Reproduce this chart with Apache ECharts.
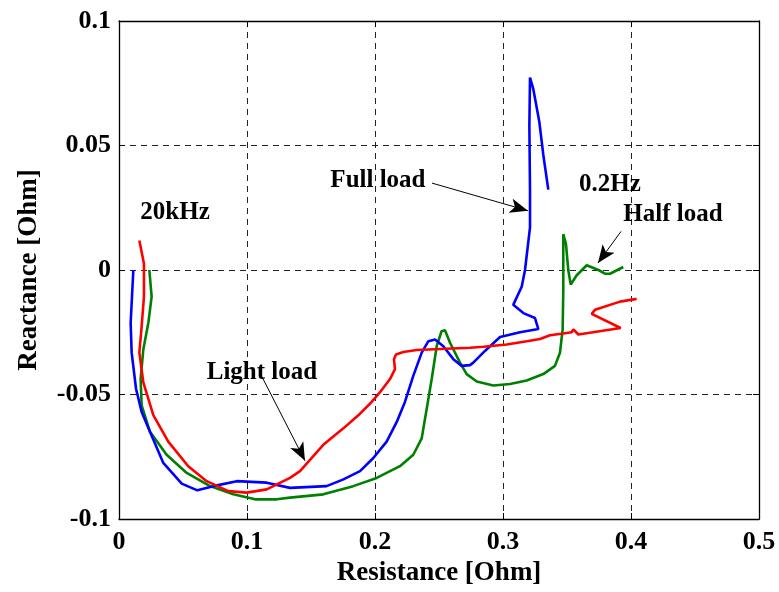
<!DOCTYPE html>
<html>
<head>
<meta charset="utf-8">
<script src="https://cdn.jsdelivr.net/npm/echarts@6/dist/echarts.min.js"></script>
<style>
    html, body { margin: 0; padding: 0; background: #fff; }
    #chart { width: 779px; height: 592px; }
</style>
</head>
<body>
<div id="chart"></div>
<script>
// 阻抗曲线数据 (电阻 / 电抗)
const fullLoadR = [0.0112, 0.0091, 0.0099, 0.0133, 0.0177, 0.0242, 0.0346, 0.049, 0.0612, 0.0737, 0.092, 0.1154, 0.1336,
    0.1622, 0.1753, 0.1883, 0.1987, 0.2091, 0.217, 0.2234, 0.2299, 0.2365, 0.2417, 0.2469, 0.2534, 0.2612, 0.2677, 0.2742,
    0.2768, 0.2859, 0.2977, 0.3133, 0.3276, 0.325, 0.3159, 0.308, 0.3146, 0.3172, 0.3211, 0.3211, 0.3206, 0.3211, 0.3237,
    0.3284, 0.3315, 0.3354];
const fullLoadX = [0, -0.0213, -0.0332, -0.0477, -0.057, -0.065, -0.0775, -0.0858, -0.0885, -0.0868, -0.0848, -0.0854, -0.0875,
    -0.0868, -0.0841, -0.0808, -0.0755, -0.0689, -0.061, -0.053, -0.0425, -0.0332, -0.0286, -0.0279, -0.0306, -0.0358, -0.0385, -0.0382,
    -0.0372, -0.0325, -0.0269, -0.025, -0.0237, -0.0193, -0.0173, -0.014, -0.0067, 0, 0.0171, 0.0316, 0.058, 0.0773, 0.0726,
    0.0594, 0.0462, 0.0323];

const halfLoadR = [0.0237, 0.0255, 0.0229, 0.019, 0.0169, 0.0177, 0.0242, 0.0372, 0.0529, 0.0711, 0.0893, 0.1063, 0.1232, 0.1336,
    0.1596, 0.183, 0.2013, 0.2195, 0.2299, 0.2365, 0.2404, 0.2443, 0.2482, 0.252, 0.2547, 0.2586, 0.2664, 0.2716, 0.2795,
    0.2924, 0.3055, 0.3185, 0.3315, 0.3406, 0.3445, 0.3466, 0.3471, 0.3471, 0.3492, 0.351, 0.3529, 0.3576, 0.3654, 0.3745,
    0.3797, 0.3836, 0.394];
const halfLoadX = [0, -0.0107, -0.0213, -0.0319, -0.0438, -0.0544, -0.065, -0.0742, -0.0815, -0.0868, -0.0901, -0.0921, -0.0921, -0.0914,
    -0.0901, -0.0868, -0.0835, -0.0788, -0.0742, -0.0676, -0.0557, -0.0438, -0.0306, -0.0246, -0.0242, -0.0292, -0.0372, -0.0418, -0.0448,
    -0.0464, -0.0458, -0.0444, -0.0418, -0.0385, -0.0332, -0.0239, -0.0081, 0.0144, 0.0104, 0, -0.0058, -0.0021, 0.0019, 0,
    -0.0015, -0.0015, 0.0012];

const lightLoadR = [0.0159, 0.0195, 0.0195, 0.0177, 0.0159, 0.019, 0.0268, 0.0385, 0.0541, 0.0685, 0.0854, 0.0998, 0.1154, 0.1336,
    0.1414, 0.1596, 0.1753, 0.1883, 0.1974, 0.2039, 0.2117, 0.2156, 0.2148, 0.2164, 0.2221, 0.2326, 0.2742, 0.2846, 0.3029,
    0.3185, 0.3289, 0.3367, 0.3471, 0.3536, 0.355, 0.3589, 0.3919, 0.3693, 0.3719, 0.3914, 0.4044];
const lightLoadX = [0.0118, 0.0025, -0.0107, -0.0226, -0.0332, -0.0451, -0.0583, -0.0689, -0.0788, -0.0848, -0.0888, -0.0894, -0.0881, -0.0835,
    -0.0808, -0.0702, -0.0636, -0.0577, -0.053, -0.0491, -0.0438, -0.0398, -0.0358, -0.0339, -0.0329, -0.0321, -0.0312, -0.0308, -0.0299,
    -0.0286, -0.0277, -0.0262, -0.0255, -0.025, -0.0239, -0.0259, -0.0233, -0.0176, -0.016, -0.0127, -0.0116];

// 坐标轴刻度
const xTicks = [0, 0.1, 0.2, 0.3, 0.4, 0.5];
const yTicks = [-0.1, -0.05, 0, 0.05, 0.1];

// 标注文字
const noteTexts = ['20kHz', 'Full load', '0.2Hz', 'Half load', 'Light load'];
const notePos = [[0.0438, 0.023], [0.2023, 0.0361], [0.3836, 0.0345], [0.4328, 0.0222], [0.1117, -0.0413]];

// 箭头 (起点, 终点)
const arrows = [
    [[0.2445, 0.0349], [0.3195, 0.0238]],
    [[0.3922, 0.0155], [0.3742, 0.0028]],
    [[0.1125, -0.0437], [0.1453, -0.0766]]
];

const FONT = '"Liberation Serif", "Times New Roman", serif';

function zip(xs, ys) {
    return xs.map((x, i) => [x, ys[i]]);
}

let gridLine = {
    show: true,
    lineStyle: { color: '#222', type: [6, 5], width: 1 }
};

let axisBase = {
    type: 'value',
    axisLine: { show: true, onZero: false, lineStyle: { color: '#000', width: 1.3 } },
    axisTick: { show: true, inside: true, length: 6, lineStyle: { color: '#000' } },
    axisLabel: { color: '#000', fontFamily: FONT, fontWeight: 'bold', fontSize: 26 },
    nameTextStyle: { color: '#000', fontFamily: FONT, fontWeight: 'bold', fontSize: 27 },
    splitLine: gridLine
};

let option = {
    animation: false,
    backgroundColor: '#fff',
    grid: { left: 119, right: 20, top: 21, bottom: 67 },
    xAxis: [
        Object.assign({}, axisBase, {
            min: xTicks[0], max: xTicks[xTicks.length - 1], interval: 0.1,
            name: 'Resistance [Ohm]', nameLocation: 'middle', nameGap: 41,
            axisLabel: Object.assign({}, axisBase.axisLabel, { margin: 10 })
        }),
        Object.assign({}, axisBase, {
            position: 'top', min: 0, max: 0.5, interval: 0.1,
            axisLabel: { show: false }, splitLine: { show: false }
        })
    ],
    yAxis: [
        Object.assign({}, axisBase, {
            min: yTicks[0], max: yTicks[yTicks.length - 1], interval: 0.05,
            name: 'Reactance [Ohm]', nameLocation: 'middle', nameGap: 76,
            axisLabel: Object.assign({}, axisBase.axisLabel, { margin: 8 })
        }),
        Object.assign({}, axisBase, {
            position: 'right', min: -0.1, max: 0.1, interval: 0.05,
            axisLabel: { show: false }, splitLine: { show: false }
        })
    ],
    series: [
        {
            name: 'Full load', type: 'line', data: zip(fullLoadR, fullLoadX),
            showSymbol: false, lineStyle: { color: '#0000ff', width: 2.6 }, z: 3
        },
        {
            name: 'Half load', type: 'line', data: zip(halfLoadR, halfLoadX),
            showSymbol: false, lineStyle: { color: '#008000', width: 2.6 }, z: 2
        },
        {
            name: 'Light load', type: 'line', data: zip(lightLoadR, lightLoadX),
            showSymbol: false, lineStyle: { color: '#ff0000', width: 2.6 }, z: 4,
            markLine: {
                silent: true,
                symbol: ['none', 'arrow'],
                symbolSize: [11, 18],
                label: { show: false },
                lineStyle: { color: '#000', width: 1, type: 'solid' },
                data: arrows.map(a => [{ coord: a[0] }, { coord: a[1] }])
            }
        }
    ]
};

let chart = echarts.init(document.getElementById('chart'));
chart.setOption(option);

// 标注文字
chart.setOption({
    graphic: noteTexts.map((t, i) => {
        let p = chart.convertToPixel({ xAxisIndex: 0, yAxisIndex: 0 }, notePos[i]);
        return {
            type: 'text', x: p[0], y: p[1], z: 10,
            style: {
                text: t, fill: '#000', align: 'center', verticalAlign: 'middle',
                font: 'bold 25px ' + FONT
            }
        };
    })
});
</script>
</body>
</html>
